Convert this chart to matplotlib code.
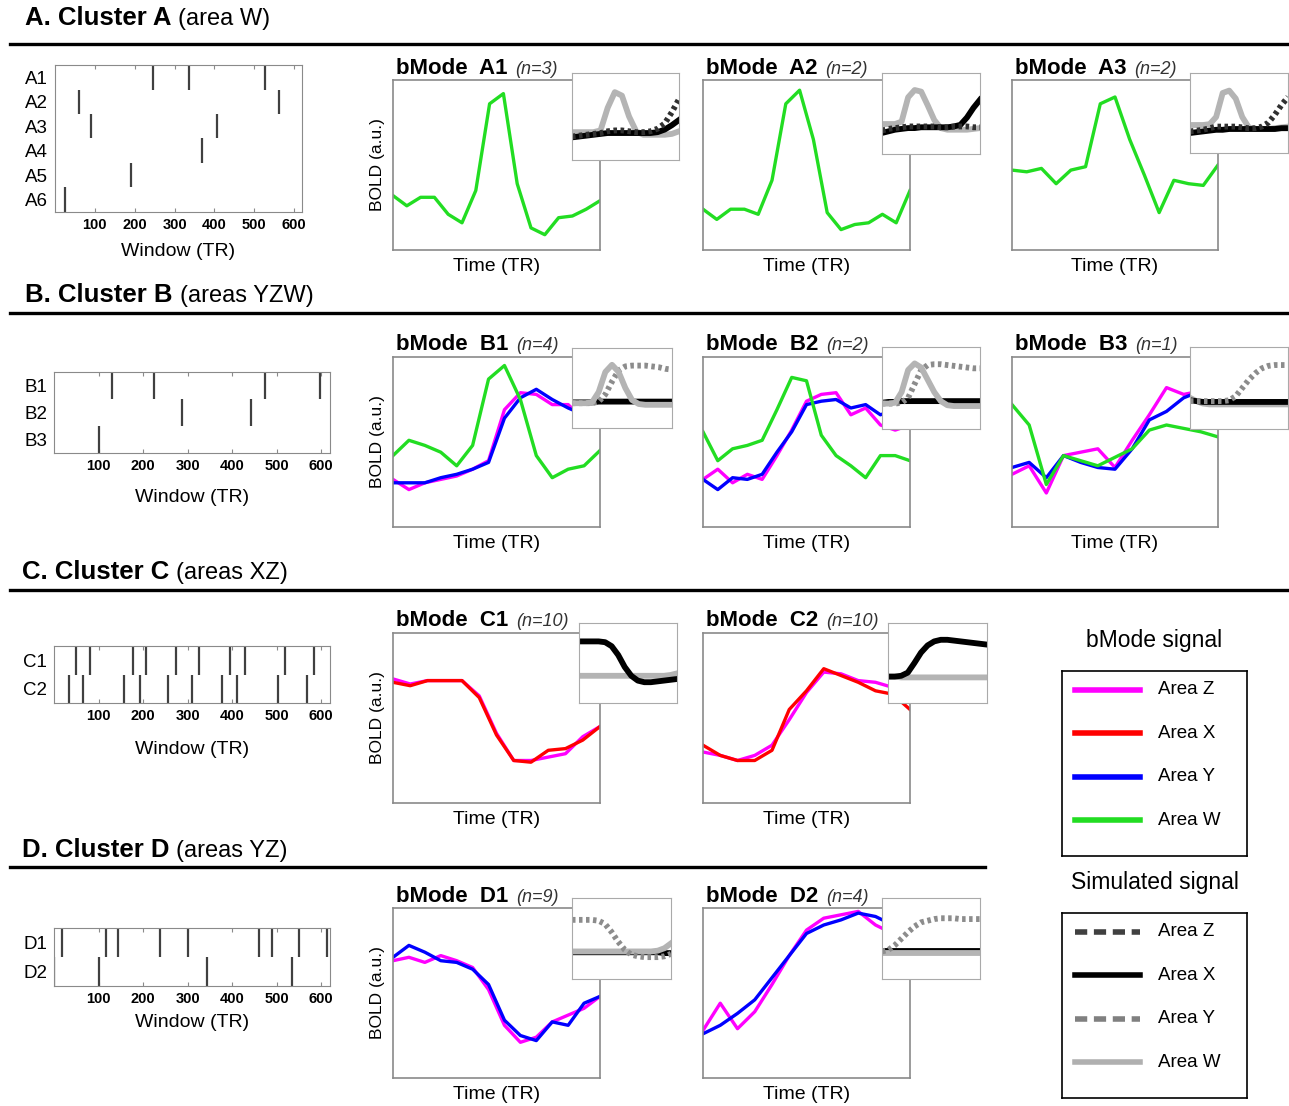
import numpy as np
import matplotlib
matplotlib.use("Agg")
import matplotlib.pyplot as plt

plt.rcParams['font.family'] = ['Liberation Sans', 'DejaVu Sans']

# ---- data ----
# raster event times (Window, TR)
a_rows = ["A1", "A2", "A3", "A4", "A5", "A6"]
a_events = [[247, 337, 528], [60, 562], [91, 406], [368], [191], [24]]
b_rows = ["B1", "B2", "B3"]
b_events = [[131, 224, 473, 598], [287, 442], [101]]
c_rows = ["C1", "C2"]
c_events = [[50, 81, 177, 207, 274, 326, 395, 429, 519, 584],
            [34, 66, 158, 194, 257, 311, 377, 412, 504, 569]]
d_rows = ["D1", "D2"]
d_events = [[19, 117, 143, 238, 301, 460, 490, 551, 613],
            [1, 102, 343, 535]]
window_ticks = [100, 200, 300, 400, 500, 600]

# bMode signals (BOLD, a.u.)
a1_w = [0.32, 0.26, 0.31, 0.31, 0.21, 0.16, 0.35, 0.86, 0.92, 0.39, 0.13, 0.09, 0.19, 0.2, 0.24, 0.29]
a2_w = [0.24, 0.18, 0.24, 0.24, 0.21, 0.41, 0.86, 0.94, 0.65, 0.22, 0.12, 0.15, 0.16, 0.21, 0.16, 0.35]
a3_w = [0.47, 0.46, 0.48, 0.39, 0.47, 0.49, 0.86, 0.9, 0.65, 0.44, 0.22, 0.41, 0.39, 0.38, 0.5]

b1_w = [0.42, 0.51, 0.48, 0.44, 0.36, 0.48, 0.87, 0.95, 0.75, 0.42, 0.29, 0.34, 0.36, 0.45]
b1_z = [0.28, 0.22, 0.26, 0.28, 0.3, 0.34, 0.39, 0.69, 0.79, 0.78, 0.72, 0.72, 0.63, 0.6]
b1_y = [0.26, 0.26, 0.26, 0.29, 0.31, 0.34, 0.38, 0.64, 0.76, 0.81, 0.75, 0.7, 0.66, 0.64]
b2_w = [0.56, 0.39, 0.46, 0.48, 0.51, 0.69, 0.88, 0.86, 0.54, 0.42, 0.36, 0.29, 0.42, 0.42, 0.39]
b2_z = [0.28, 0.34, 0.26, 0.31, 0.28, 0.42, 0.57, 0.74, 0.78, 0.79, 0.66, 0.7, 0.6, 0.57, 0.6]
b2_y = [0.28, 0.22, 0.29, 0.28, 0.31, 0.44, 0.56, 0.72, 0.74, 0.75, 0.7, 0.72, 0.66, 0.69, 0.7]
b3_w = [0.72, 0.6, 0.25, 0.42, 0.39, 0.36, 0.41, 0.46, 0.57, 0.6, 0.58, 0.56, 0.53]
b3_z = [0.31, 0.36, 0.2, 0.42, 0.44, 0.46, 0.35, 0.51, 0.66, 0.82, 0.78, 0.8, 0.8]
b3_y = [0.35, 0.38, 0.29, 0.42, 0.38, 0.35, 0.34, 0.46, 0.63, 0.68, 0.76, 0.8, 0.8]

c1_z = [0.73, 0.7, 0.72, 0.72, 0.72, 0.63, 0.41, 0.25, 0.25, 0.27, 0.29, 0.39, 0.45]
c1_x = [0.71, 0.69, 0.72, 0.72, 0.72, 0.62, 0.4, 0.25, 0.24, 0.31, 0.32, 0.37, 0.45]
c2_z = [0.3, 0.28, 0.25, 0.28, 0.34, 0.49, 0.65, 0.77, 0.76, 0.72, 0.71, 0.68, 0.61]
c2_x = [0.34, 0.28, 0.25, 0.25, 0.31, 0.55, 0.66, 0.79, 0.75, 0.71, 0.66, 0.64, 0.55]

d1_z = [0.69, 0.71, 0.68, 0.72, 0.69, 0.65, 0.52, 0.31, 0.21, 0.24, 0.33, 0.37, 0.41, 0.48]
d1_y = [0.71, 0.78, 0.74, 0.69, 0.68, 0.64, 0.55, 0.34, 0.25, 0.22, 0.33, 0.31, 0.44, 0.48]
d2_z = [0.28, 0.44, 0.29, 0.39, 0.55, 0.72, 0.87, 0.94, 0.96, 0.98, 0.9, 0.85, 0.8]
d2_y = [0.26, 0.31, 0.38, 0.46, 0.59, 0.72, 0.85, 0.9, 0.93, 0.97, 0.95, 0.9, 0.8]

# simulated signals (insets)
sa1_w = [0.32, 0.32, 0.32, 0.32, 0.34, 0.6, 0.78, 0.74, 0.5, 0.33, 0.29, 0.29, 0.29, 0.29, 0.3, 0.33]
sa1_z = [0.27, 0.28, 0.29, 0.3, 0.31, 0.33, 0.34, 0.34, 0.33, 0.32, 0.32, 0.33, 0.36, 0.42, 0.55, 0.7]
sa1_x = [0.26, 0.27, 0.28, 0.29, 0.3, 0.31, 0.31, 0.31, 0.31, 0.31, 0.31, 0.31, 0.32, 0.35, 0.4, 0.46]
sa2_w = [0.37, 0.37, 0.37, 0.4, 0.7, 0.79, 0.77, 0.6, 0.42, 0.32, 0.3, 0.3, 0.3, 0.3, 0.31, 0.32]
sa2_z = [0.29, 0.31, 0.32, 0.33, 0.34, 0.34, 0.34, 0.34, 0.34, 0.33, 0.33, 0.34, 0.34, 0.34, 0.33, 0.33]
sa2_x = [0.26, 0.28, 0.3, 0.31, 0.32, 0.32, 0.33, 0.33, 0.33, 0.33, 0.33, 0.34, 0.36, 0.45, 0.57, 0.67]
sa3_w = [0.35, 0.35, 0.35, 0.36, 0.45, 0.75, 0.78, 0.68, 0.45, 0.32, 0.3, 0.3, 0.3, 0.31, 0.32, 0.33]
sa3_z = [0.27, 0.28, 0.29, 0.31, 0.33, 0.33, 0.33, 0.33, 0.32, 0.31, 0.31, 0.33, 0.38, 0.48, 0.6, 0.7]
sa3_x = [0.25, 0.26, 0.27, 0.28, 0.29, 0.29, 0.3, 0.3, 0.3, 0.3, 0.3, 0.3, 0.3, 0.3, 0.31, 0.31]

sb1_w = [0.31, 0.31, 0.31, 0.32, 0.45, 0.7, 0.79, 0.7, 0.5, 0.35, 0.3, 0.29, 0.29, 0.29, 0.29, 0.29]
sb1_y = [0.31, 0.31, 0.31, 0.31, 0.33, 0.42, 0.58, 0.72, 0.77, 0.78, 0.78, 0.78, 0.77, 0.76, 0.74, 0.73]
sb1_x = [0.32, 0.32, 0.32, 0.32, 0.33, 0.33, 0.33, 0.33, 0.33, 0.33, 0.33, 0.33, 0.33, 0.33, 0.33, 0.33]
sb2_w = [0.31, 0.31, 0.32, 0.45, 0.72, 0.8, 0.75, 0.6, 0.45, 0.34, 0.29, 0.28, 0.28, 0.28, 0.28, 0.28]
sb2_y = [0.31, 0.31, 0.31, 0.32, 0.38, 0.55, 0.72, 0.78, 0.79, 0.79, 0.78, 0.77, 0.76, 0.75, 0.74, 0.74]
sb2_x = [0.32, 0.33, 0.33, 0.34, 0.34, 0.34, 0.34, 0.34, 0.34, 0.34, 0.34, 0.34, 0.34, 0.34, 0.34, 0.34]
sb3_w = [0.38, 0.34, 0.31, 0.3, 0.3, 0.3, 0.3, 0.3, 0.3, 0.3, 0.3, 0.3, 0.3, 0.3, 0.3, 0.3]
sb3_y = [0.34, 0.34, 0.34, 0.34, 0.34, 0.34, 0.35, 0.4, 0.5, 0.6, 0.68, 0.74, 0.77, 0.78, 0.78, 0.78]
sb3_x = [0.35, 0.34, 0.33, 0.33, 0.33, 0.33, 0.33, 0.33, 0.33, 0.33, 0.33, 0.33, 0.33, 0.33, 0.33, 0.33]

sc1_x = [0.77, 0.77, 0.77, 0.77, 0.76, 0.71, 0.6, 0.45, 0.34, 0.28, 0.26, 0.26, 0.27, 0.28, 0.29, 0.3]
sc1_w = [0.34, 0.34, 0.34, 0.34, 0.34, 0.34, 0.34, 0.34, 0.34, 0.34, 0.34, 0.34, 0.34, 0.34, 0.35, 0.37]
sc2_x = [0.33, 0.33, 0.34, 0.38, 0.5, 0.63, 0.72, 0.77, 0.79, 0.79, 0.78, 0.77, 0.76, 0.75, 0.74, 0.73]
sc2_w = [0.33, 0.33, 0.32, 0.32, 0.32, 0.32, 0.32, 0.32, 0.32, 0.32, 0.32, 0.32, 0.32, 0.32, 0.32, 0.32]

sd1_y = [0.73, 0.73, 0.73, 0.73, 0.72, 0.68, 0.58, 0.46, 0.36, 0.3, 0.28, 0.27, 0.27, 0.27, 0.28, 0.31]
sd1_w = [0.34, 0.34, 0.34, 0.34, 0.34, 0.34, 0.34, 0.34, 0.34, 0.34, 0.34, 0.34, 0.34, 0.35, 0.38, 0.44]
sd1_x = [0.33, 0.33, 0.33, 0.33, 0.33, 0.33, 0.33, 0.33, 0.33, 0.33, 0.33, 0.33, 0.33, 0.33, 0.32, 0.32]
sd2_y = [0.34, 0.36, 0.42, 0.5, 0.58, 0.65, 0.7, 0.72, 0.74, 0.75, 0.75, 0.75, 0.74, 0.74, 0.74, 0.74]
sd2_w = [0.32, 0.32, 0.32, 0.32, 0.32, 0.32, 0.32, 0.32, 0.32, 0.32, 0.32, 0.32, 0.32, 0.32, 0.32, 0.32]
sd2_x = [0.34, 0.34, 0.34, 0.34, 0.34, 0.34, 0.34, 0.34, 0.34, 0.34, 0.34, 0.34, 0.34, 0.34, 0.34, 0.34]

# ---- styles ----
BCOL = {"Z": "#ff00ff", "X": "#ff0000", "Y": "#0000ff", "W": "#22dd22"}
SSTY = {"W": dict(color="#b4b4b4", ls="-"),
        "X": dict(color="#000000", ls="-"),
        "Z": dict(color="#303030", ls=(0, (0.6, 0.6))),
        "Y": dict(color="#8c8c8c", ls=(0, (0.6, 0.6)))}
SPINE = "#8a8a8a"

W, H = 1289, 1106
fig = plt.figure(figsize=(W / 100, H / 100), dpi=100)
renderer = fig.canvas.get_renderer()


def box(x0, y0, x1, y1):
    return [x0 / W, 1 - y1 / H, (x1 - x0) / W, (y1 - y0) / H]


def txt(x, y, s, **kw):
    return fig.text(x / W, 1 - y / H, s, **kw)


def hline(x0, x1, y):
    fig.add_artist(plt.Line2D([x0 / W, x1 / W], [1 - y / H, 1 - y / H],
                              color="black", lw=2.4))


# section headers
headers = [(25, 18, "A. Cluster A", "(area W)", 44, 1289),
           (25, 295, "B. Cluster B", "(areas YZW)", 313, 1289),
           (22, 572, "C. Cluster C", "(areas XZ)", 590, 1289),
           (22, 850, "D. Cluster D", "(areas YZ)", 867, 985)]
for hx, hy, bold, sub, ly, lx1 in headers:
    t = txt(hx, hy, bold, fontsize=18.5, fontweight="bold", va="center")
    x_end = t.get_window_extent(renderer).x1
    txt(x_end + 7, hy + 1, sub, fontsize=17, va="center")
    hline(10, lx1, ly)


def raster(rect, rows, events, xlab_pad):
    ax = fig.add_axes(box(*rect))
    n = len(rows)
    for i, ev in enumerate(events):
        ax.vlines(ev, n - i - 0.5, n - i + 0.5, color="#404040", lw=1.6)
    ax.set_xlim(0, 620)
    ax.set_ylim(0.5, n + 0.5)
    ax.set_yticks(np.arange(n, 0, -1))
    ax.set_yticklabels(rows, fontsize=13.5)
    ax.set_xticks(window_ticks)
    ax.set_xticklabels([str(t) for t in window_ticks], fontsize=10.5, fontweight="bold")
    ax.tick_params(axis="x", direction="in", top=True, length=3, color=SPINE, pad=4)
    ax.tick_params(axis="y", length=0, pad=5)
    ax.set_xlabel("Window (TR)", fontsize=14, labelpad=xlab_pad)
    for s in ax.spines.values():
        s.set_color(SPINE)
    return ax


raster((55, 65, 302, 212), a_rows, a_events, 8)
raster((54, 372, 330, 453), b_rows, b_events, 12)
raster((54, 646, 330, 703), c_rows, c_events, 13)
raster((54, 928, 330, 986), d_rows, d_events, 6)


def panel(rect, inset, title, n_txt, curves, sims, ylab):
    ax = fig.add_axes(box(*rect))
    for key, vals in curves:
        ax.plot(np.arange(len(vals)), vals, color=BCOL[key], lw=2.4)
    n = max(len(v) for _, v in curves)
    ax.set_xlim(0, n - 1)
    ax.set_ylim(0, 1)
    ax.set_xticks([])
    ax.set_yticks([])
    ax.set_xlabel("Time (TR)", fontsize=14, labelpad=6)
    if ylab:
        ax.set_ylabel("BOLD (a.u.)", fontsize=12.5, labelpad=6)
    for s in ax.spines.values():
        s.set_color(SPINE)
        s.set_linewidth(1.2)
    t = txt(rect[0] + 3, rect[1] - 12, title, fontsize=16, fontweight="bold", va="center")
    x_end = t.get_window_extent(renderer).x1
    txt(x_end + 8, rect[1] - 11, n_txt, fontsize=13, style="italic", color="#333333", va="center")

    ia = fig.add_axes(box(*inset))
    for key, vals in sims:
        ia.plot(np.arange(len(vals)), vals, lw=4.2, **SSTY[key])
    ia.set_xlim(0, 15)
    ia.set_ylim(0, 1)
    ia.set_xticks([])
    ia.set_yticks([])
    for s in ia.spines.values():
        s.set_color("#aaaaaa")


panel((393, 80, 600, 250), (572, 73, 679, 160), "bMode  A1", "(n=3)",
      [("W", a1_w)], [("W", sa1_w), ("X", sa1_x), ("Z", sa1_z)], True)
panel((703, 80, 910, 250), (882, 73, 980, 154), "bMode  A2", "(n=2)",
      [("W", a2_w)], [("W", sa2_w), ("X", sa2_x), ("Z", sa2_z)], False)
panel((1012, 80, 1218, 250), (1190, 73, 1288, 153), "bMode  A3", "(n=2)",
      [("W", a3_w)], [("W", sa3_w), ("X", sa3_x), ("Z", sa3_z)], False)

panel((393, 357, 600, 527), (572, 348, 672, 428), "bMode  B1", "(n=4)",
      [("Z", b1_z), ("Y", b1_y), ("W", b1_w)], [("X", sb1_x), ("Y", sb1_y), ("W", sb1_w)], True)
panel((703, 357, 910, 527), (882, 347, 980, 429), "bMode  B2", "(n=2)",
      [("Z", b2_z), ("Y", b2_y), ("W", b2_w)], [("X", sb2_x), ("Y", sb2_y), ("W", sb2_w)], False)
panel((1012, 357, 1218, 527), (1190, 347, 1288, 429), "bMode  B3", "(n=1)",
      [("Z", b3_z), ("Y", b3_y), ("W", b3_w)], [("W", sb3_w), ("X", sb3_x), ("Y", sb3_y)], False)

panel((393, 633, 600, 803), (579, 623, 677, 703), "bMode  C1", "(n=10)",
      [("Z", c1_z), ("X", c1_x)], [("W", sc1_w), ("X", sc1_x)], True)
panel((703, 633, 910, 803), (888, 623, 987, 703), "bMode  C2", "(n=10)",
      [("Z", c2_z), ("X", c2_x)], [("W", sc2_w), ("X", sc2_x)], False)

panel((393, 908, 600, 1078), (572, 898, 671, 979), "bMode  D1", "(n=9)",
      [("Z", d1_z), ("Y", d1_y)], [("X", sd1_x), ("W", sd1_w), ("Y", sd1_y)], True)
panel((703, 908, 910, 1078), (882, 898, 980, 979), "bMode  D2", "(n=4)",
      [("Z", d2_z), ("Y", d2_y)], [("X", sd2_x), ("W", sd2_w), ("Y", sd2_y)], False)

# legends
leg_names = ["Area Z", "Area X", "Area Y", "Area W"]
leg_keys = ["Z", "X", "Y", "W"]
sim_leg = {"Z": dict(color="#404040", ls=(0, (2.2, 1.2))),
           "X": dict(color="#000000", ls="-"),
           "Y": dict(color="#808080", ls=(0, (2.2, 1.2))),
           "W": dict(color="#b0b0b0", ls="-")}


def legend_box(rect, title, styler):
    txt((rect[0] + rect[2]) / 2, rect[1] - 30, title, fontsize=16.5, ha="center", va="center")
    la = fig.add_axes(box(*rect))
    la.set_xlim(0, 1)
    la.set_ylim(0, 1)
    la.set_xticks([])
    la.set_yticks([])
    for s in la.spines.values():
        s.set_color("black")
        s.set_linewidth(1.2)
    for i, (nm, k) in enumerate(zip(leg_names, leg_keys)):
        yy = 0.9 - i * 0.236
        la.plot([0.07, 0.42], [yy, yy], lw=4, **styler(k))
        la.text(0.52, yy, nm, fontsize=13.5, va="center")


legend_box((1062, 671, 1247, 856), "bMode signal", lambda k: dict(color=BCOL[k], ls="-"))
legend_box((1062, 913, 1247, 1098), "Simulated signal", lambda k: sim_leg[k])

fig.savefig("out.png", dpi=100)
